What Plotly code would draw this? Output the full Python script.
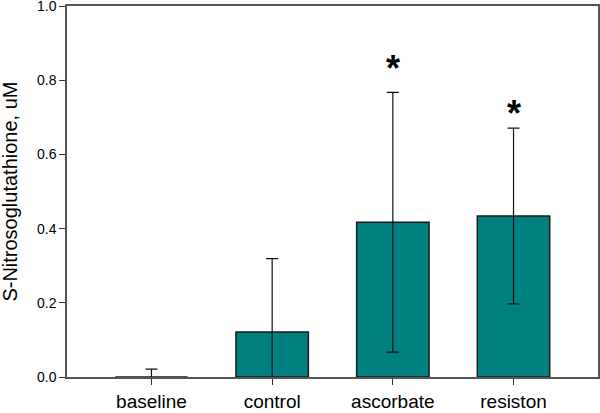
import plotly.graph_objects as go

categories = ["baseline", "control", "ascorbate", "resiston"]
means = [0.0, 0.121, 0.417, 0.434]
errors = [0.021, 0.198, 0.350, 0.237]
star_y = [None, None, 0.841, 0.722]
y_title = "S-Nitrosoglutathione, uM"

xpos = list(range(len(categories)))

fig = go.Figure()
fig.add_trace(go.Bar(
    x=xpos, y=means, width=0.6,
    marker=dict(color="#008080", line=dict(color="#1a1a1a", width=1.5)),
    error_y=dict(type="data", array=errors, visible=True, color="#111111", thickness=1.2, width=6),
    showlegend=False,
))

annotations = []
for i, sy in enumerate(star_y):
    if sy is not None:
        annotations.append(dict(
            x=i, y=sy, xref="x", yref="y", text="<b>*</b>",
            showarrow=False, font=dict(size=36, color="black", family="Liberation Sans"),
            yanchor="middle", xanchor="center", yshift=-4,
        ))
annotations.append(dict(
    x=-0.109, y=0.5, xref="paper", yref="paper", text=y_title, textangle=-90,
    showarrow=False, font=dict(size=20, color="black"),
    xanchor="center", yanchor="middle",
))

fig.update_layout(
    width=600, height=413,
    margin=dict(l=66.5, r=1.5, t=6, b=36.3, autoexpand=False),
    plot_bgcolor="white", paper_bgcolor="white",
    font=dict(family="Liberation Sans, Arial, sans-serif", color="black"),
    annotations=annotations,
    xaxis=dict(
        range=[-0.7, 3.7], tickvals=xpos, ticktext=categories,
        showline=True, linecolor="#555555", linewidth=1.5, mirror=True,
        ticks="outside", ticklen=6, tickcolor="#333333", tickwidth=1.2,
        tickfont=dict(size=19), showgrid=False, zeroline=False, automargin=False,
        ticklabeloverflow="allow",
    ),
    yaxis=dict(
        range=[0, 1.0], tickvals=[0, 0.2, 0.4, 0.6, 0.8, 1.0],
        ticktext=["0.0", "0.2", "0.4", "0.6", "0.8", "1.0"],
        showline=True, linecolor="#555555", linewidth=1.5, mirror=True,
        ticks="outside", ticklen=6, tickcolor="#333333", tickwidth=1.2,
        tickfont=dict(size=14), showgrid=False, zeroline=False, automargin=False,
        ticklabeloverflow="allow",
    ),
)

fig.write_html(
    "out.html",
    config={"displayModeBar": False},
    post_script="document.body.style.margin='0';document.body.style.overflow='hidden';",
)
